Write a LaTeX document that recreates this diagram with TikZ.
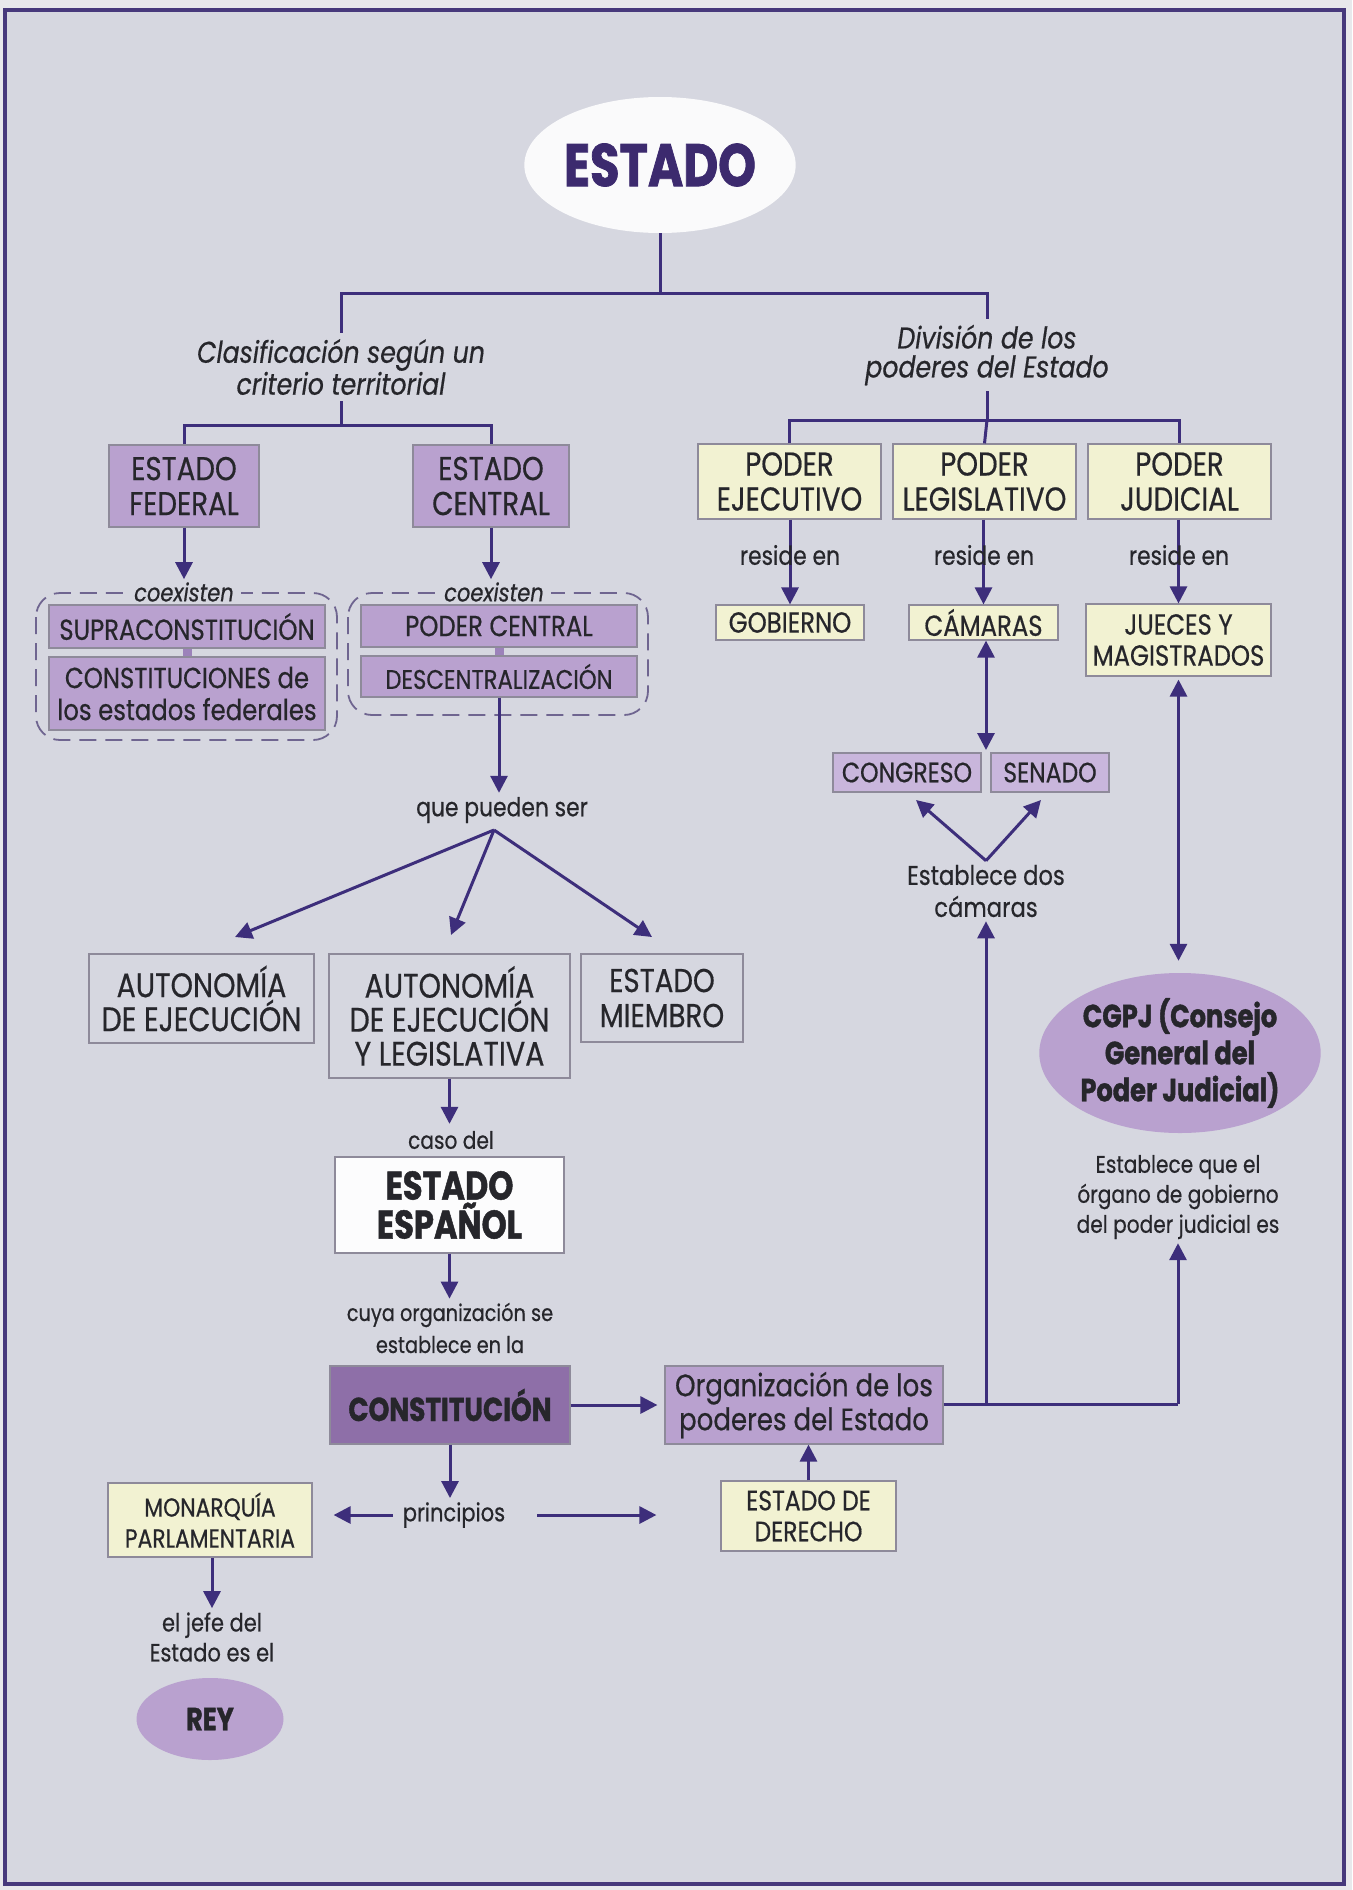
\documentclass[tikz,border=0pt]{standalone}
\usepackage{fontspec}
\setmainfont{Poppins}[FakeStretch=0.84,
  UprightFeatures={FakeBold=0.5}, ItalicFeatures={FakeBold=0.5}]
\newfontfamily\heavyfont{Poppins}[FakeStretch=0.80, BoldFeatures={FakeBold=1.2}]
\usetikzlibrary{arrows.meta,shapes.geometric,calc}

\definecolor{pagebg}{HTML}{D6D7E0}
\definecolor{outerbg}{HTML}{E8E8EC}
\definecolor{framec}{HTML}{47397C}
\definecolor{linec}{HTML}{3D2E7B}
\definecolor{lavfill}{HTML}{B9A1CF}
\definecolor{lavpale}{HTML}{C9B6DC}
\definecolor{constfill}{HTML}{8E6FA8}
\definecolor{yelfill}{HTML}{F2F2D2}
\definecolor{boxline}{HTML}{8E8A9A}
\definecolor{txt}{HTML}{26262B}
\definecolor{titletxt}{HTML}{3C2A6E}
\definecolor{dashc}{HTML}{6F6590}
\definecolor{linkfill}{HTML}{9C82BA}

\tikzset{
  base/.style={draw=boxline, line width=1.2pt, align=center, inner sep=0pt,
    text=txt, font=\fontsize{33}{35}\selectfont},
  lav/.style={base, fill=lavfill},
  pale/.style={base, fill=lavpale},
  yel/.style={base, fill=yelfill},
  plainbox/.style={base},
  whitebox/.style={base, fill=white!92!pagebg},
  constbox/.style={base, fill=constfill},
  blob/.style={ellipse, inner sep=0pt, align=center, text=txt},
  lbl/.style={align=center, text=txt, inner sep=4pt, font=\fontsize{25}{30}\selectfont},
  ital/.style={align=center, text=txt, inner sep=6pt, font=\fontsize{30}{29}\selectfont\itshape},
  conn/.style={draw=linec, line width=3pt},
  arr/.style={conn, -{Triangle[length=17pt,width=17pt]}},
  darr/.style={conn, {Triangle[length=17pt,width=17pt]}-{Triangle[length=17pt,width=17pt]}},
  coex/.style={draw=dashc, line width=1.8pt, dash pattern=on 17pt off 9pt, rounded corners=24pt},
  coexlbl/.style={fill=pagebg, inner xsep=7pt, inner ysep=3pt, text=txt,
    font=\fontsize{25}{28}\selectfont\itshape},
  link/.style={draw=linkfill, line width=9pt},
}

\begin{document}
\begin{tikzpicture}[x=1pt,y=-1pt]
\useasboundingbox (0,0) rectangle (1352,1890);
\fill[outerbg] (0,0) rectangle (1352,1890);
\fill[pagebg] (5,10) rectangle (1344,1884);
\draw[framec, line width=4.5pt] (5,10) rectangle (1344,1884);

% ---------- root ----------
\node[blob, fill=white!88!pagebg, minimum width=264pt, minimum height=136pt,
  text=titletxt, font=\heavyfont\bfseries\fontsize{60}{62}\selectfont] (estado) at (660,165) {ESTADO};
\node[ital] (clasif) at (341,367) {Clasificación según un\\criterio territorial};
\node[ital] (division) at (987,355) {División de los\\poderes del Estado};
\coordinate (j0) at (660,293);
\draw[conn] (estado.south) -- (j0);
\draw[conn] (clasif.north) |- (j0) -| (division.north);

% ---------- territorial branch ----------
\node[lav, minimum width=150pt, minimum height=82pt] (federal) at (184,486) {ESTADO\\FEDERAL};
\node[lav, minimum width=156pt, minimum height=82pt] (central) at (491,486) {ESTADO\\CENTRAL};
\coordinate (j1) at (341,425);
\draw[conn] (clasif.south) -- (j1);
\draw[conn] (federal.north) |- (j1) -| (central.north);

\draw[coex] (36,593) rectangle (337,740);
\draw[coex] (348,593) rectangle (648,715);
\node[coexlbl] (coexL) at (184,592) {coexisten};
\node[coexlbl] (coexR) at (494,592) {coexisten};
\draw[arr] (federal.south) -- (coexL.north);
\draw[arr] (central.south) -- (central.south |- coexR.north);

\node[lav, minimum width=276pt, minimum height=43pt, font=\fontsize{29}{32}\selectfont] (supra) at (187,626.5) {SUPRACONSTITUCIÓN};
\node[lav, minimum width=276pt, minimum height=73pt, font=\fontsize{29}{32}\selectfont] (constfed) at (187,693.5) {CONSTITUCIONES de\\los estados federales};
\draw[link] (supra.south) -- (constfed.north);
\node[lav, minimum width=276pt, minimum height=42pt, font=\fontsize{29}{32}\selectfont] (pcentral) at (499,626) {PODER CENTRAL};
\node[lav, minimum width=276pt, minimum height=41pt, font=\fontsize{27}{30}\selectfont] (descent) at (499,676.5) {DESCENTRALIZACIÓN};
\draw[link] (pcentral.south) -- (descent.north);

\node[lbl, font=\fontsize{26}{30}\selectfont] (qp) at (502,810) {que pueden ser};
\draw[arr] (descent.south) -- (descent.south |- qp.north);
\coordinate (qpfoot) at (494,830);
\coordinate (t1) at (235,937);
\coordinate (t2) at (451,935);
\coordinate (t3) at (652,937);
\draw[arr] (qpfoot) -- (t1);
\draw[arr] (qpfoot) -- (t2);
\draw[arr] (qpfoot) -- (t3);

\node[plainbox, minimum width=225pt, minimum height=89pt, font=\fontsize{34}{34}\selectfont] (aut1) at (201.5,998.5) {AUTONOMÍA\\DE EJECUCIÓN};
\node[plainbox, minimum width=241pt, minimum height=124pt, font=\fontsize{34}{34}\selectfont] (aut2) at (449.5,1016) {AUTONOMÍA\\DE EJECUCIÓN\\Y LEGISLATIVA};
\node[plainbox, minimum width=162pt, minimum height=88pt] (miembro) at (662,998) {ESTADO\\MIEMBRO};

\node[lbl, font=\fontsize{24}{28}\selectfont, inner sep=7pt] (caso) at (451,1140) {caso del};
\draw[arr] (aut2.south) -- (aut2.south |- caso.north);
\node[whitebox, minimum width=229pt, minimum height=96pt,
  font=\heavyfont\bfseries\fontsize{40}{39}\selectfont] (espanol) at (449.5,1205) {ESTADO\\ESPAÑOL};

\node[lbl, font=\fontsize{23}{32}\selectfont] (cuya) at (450,1328) {cuya organización se\\establece en la};
\draw[arr] (espanol.south) -- (espanol.south |- cuya.north);

\node[constbox, minimum width=240pt, minimum height=78pt,
  font=\heavyfont\bfseries\fontsize{33}{34}\selectfont] (const) at (450,1405) {CONSTITUCIÓN};
\node[lav, minimum width=278pt, minimum height=78pt, font=\fontsize{31}{34}\selectfont] (org) at (804,1405) {Organización de los\\poderes del Estado};
\draw[arr, shorten >=7pt] (const.east) -- (org.west);

\node[lbl] (princ) at (454,1515) {principios};
\draw[arr] (const.south) -- (const.south |- princ.north);
\node[yel, minimum width=204pt, minimum height=74pt, font=\fontsize{26}{31}\selectfont] (monarq) at (210,1520) {MONARQUÍA\\PARLAMENTARIA};
\node[yel, minimum width=175pt, minimum height=70pt, font=\fontsize{28}{31}\selectfont] (derecho) at (808.5,1516) {ESTADO DE\\DERECHO};
\draw[arr, shorten <=6pt, shorten >=21pt] (princ.west) -- (princ.west -| monarq.east);
\draw[arr, shorten <=28pt, shorten >=64pt] (princ.east) -- (princ.east -| derecho.west);
\draw[arr] (derecho.north) -- (derecho.north |- org.south);

\node[lbl, font=\fontsize{25}{30}\selectfont] (jefe) at (212,1637) {el jefe del\\Estado es el};
\draw[arr] (monarq.south -| jefe.north) -- (jefe.north);
\node[blob, fill=lavfill, minimum width=147pt, minimum height=82pt,
  font=\heavyfont\bfseries\fontsize{32}{34}\selectfont] (rey) at (210,1719) {REY};

% ---------- powers branch ----------
\coordinate (j2) at (987,420);
\draw[conn] (division.south) -- (j2);
\node[yel, minimum width=183pt, minimum height=75pt] (ejec) at (789.5,481.5) {PODER\\EJECUTIVO};
\node[yel, minimum width=183pt, minimum height=75pt] (legis) at (984.5,481.5) {PODER\\LEGISLATIVO};
\node[yel, minimum width=183pt, minimum height=75pt] (judic) at (1179.5,481.5) {PODER\\JUDICIAL};
\draw[conn] (ejec.north) |- (j2) -| (judic.north);
\draw[conn] (j2) -- (legis.north);

\node[yel, minimum width=148pt, minimum height=35pt, font=\fontsize{29}{31}\selectfont] (gobierno) at (790,622.5) {GOBIERNO};
\node[yel, minimum width=149pt, minimum height=35pt, font=\fontsize{29}{31}\selectfont] (camaras) at (983.5,622.5) {CÁMARAS};
\node[yel, minimum width=185pt, minimum height=72pt, font=\fontsize{29}{31}\selectfont] (jueces) at (1178.5,640) {JUECES Y\\MAGISTRADOS};

\draw[arr] (ejec.south -| gobierno.north) -- (gobierno.north);
\draw[arr] (legis.south -| camaras.north) -- (camaras.north);
\draw[arr] (judic.south -| jueces.north) -- (jueces.north);
\node[lbl, font=\fontsize{26}{28}\selectfont] (res1) at (790,555) {reside en};
\node[lbl, font=\fontsize{26}{28}\selectfont] (res2) at (984,555) {reside en};
\node[lbl, font=\fontsize{26}{28}\selectfont] (res3) at (1179,555) {reside en};

\node[pale, minimum width=148pt, minimum height=39pt, font=\fontsize{28}{30}\selectfont] (congreso) at (907,772.5) {CONGRESO};
\node[pale, minimum width=118pt, minimum height=39pt, font=\fontsize{28}{30}\selectfont] (senado) at (1050,772.5) {SENADO};
\coordinate (ccgap) at (986,750);
\draw[darr] (camaras.south -| ccgap) -- (ccgap);

\node[lbl, font=\fontsize{27}{32}\selectfont] (dos) at (986,891) {Establece dos\\cámaras};
\coordinate (vtip1) at (916,800);
\coordinate (vtip2) at (1041,800);
\draw[arr] (dos.north) -- (vtip1);
\draw[arr] (dos.north) -- (vtip2);

\node[blob, fill=lavfill, minimum width=274pt, minimum height=160pt,
  font=\heavyfont\bfseries\fontsize{32}{37}\selectfont] (cgpj) at (1180,1053) {CGPJ (Consejo\\General del\\Poder Judicial)};
\draw[darr, shorten >=12pt, shorten <=3pt] (jueces.south) -- (jueces.south |- cgpj.north);

\node[lbl, font=\fontsize{24}{30}\selectfont] (organo) at (1178,1197) {Establece que el\\órgano de gobierno\\del poder judicial es};

\coordinate (r0) at (986,1404);
\coordinate (r1) at (1178,1404);
\draw[conn] (org.east |- r0) -- (r1);
\draw[arr] (r0) -- (r0 |- dos.south);
\draw[arr] (r1) -- (organo.south);
\end{tikzpicture}
\end{document}
